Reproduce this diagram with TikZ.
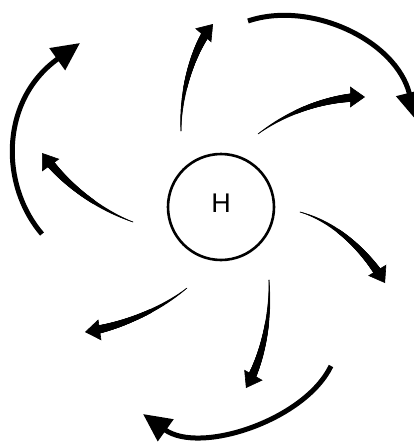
\documentclass[tikz,border=0pt]{standalone}
\usepackage{fontspec}
\setmainfont{Liberation Sans}
\usetikzlibrary{arrows.meta,decorations.markings}

\tikzset{
  % outer ring of winds, even width
  outer wind/.style={line width=5pt, -{Triangle[length=28pt,width=26pt]}},
  % inner winds, thin at the start and thick at the head
  inner wind/.style={line width=0.6pt, -{Triangle[length=15pt,width=21pt]},
    decoration={markings,
      mark=between positions 0 and -8pt step 0.5pt with {
        \pgfmathsetmacro\windr{0.3+4.4*\pgfkeysvalueof{/pgf/decoration/mark info/distance from start}/\pgfdecoratedpathlength}
        \fill (0,0) circle (\windr pt);
      }},
    postaction={decorate}},
  high/.style={circle, draw, line width=2.6pt, minimum size=106pt,
    text depth=8pt, font=\fontsize{27}{30}\selectfont},
}

\begin{document}
\begin{tikzpicture}[x=1pt, y=-1pt]
  \useasboundingbox (0,0) rectangle (414,442);

  % High pressure centre
  \node[high] (H) at (221,207) {H};

  % Outer ring: top right, bottom, left
  \coordinate (o1s) at (248,21);  \coordinate (o1e) at (416,120);
  \draw[outer wind] (o1s) .. controls (310,0) and (396,40) .. (o1e);
  \coordinate (o2s) at (331,366); \coordinate (o2e) at (143,414);
  \draw[outer wind] (o2s) .. controls (305,420) and (200,455) .. (o2e);
  \coordinate (o3s) at (42,234);  \coordinate (o3e) at (80,43);
  \draw[outer wind] (o3s) .. controls (0,185) and (0,100) .. (o3e);

  % Inner winds, spiralling out clockwise
  \coordinate (i1s) at (181,131); \coordinate (i1e) at (213,24);
  \draw[inner wind] (i1s) .. controls (180,90) and (195,45) .. (i1e);
  \coordinate (i2s) at (258,134); \coordinate (i2e) at (365,97);
  \draw[inner wind] (i2s) .. controls (290,110) and (330,97) .. (i2e);
  \coordinate (i3s) at (300,212); \coordinate (i3e) at (385,283);
  \draw[inner wind] (i3s) .. controls (335,222) and (365,250) .. (i3e);
  \coordinate (i4s) at (269,280); \coordinate (i4e) at (246,388);
  \draw[inner wind] (i4s) .. controls (271,320) and (262,360) .. (i4e);
  \coordinate (i5s) at (187,288); \coordinate (i5e) at (85,332);
  \draw[inner wind] (i5s) .. controls (160,310) and (120,327) .. (i5e);
  \coordinate (i6s) at (133,222); \coordinate (i6e) at (42,153);
  \draw[inner wind] (i6s) .. controls (100,210) and (65,185) .. (i6e);
\end{tikzpicture}
\end{document}
